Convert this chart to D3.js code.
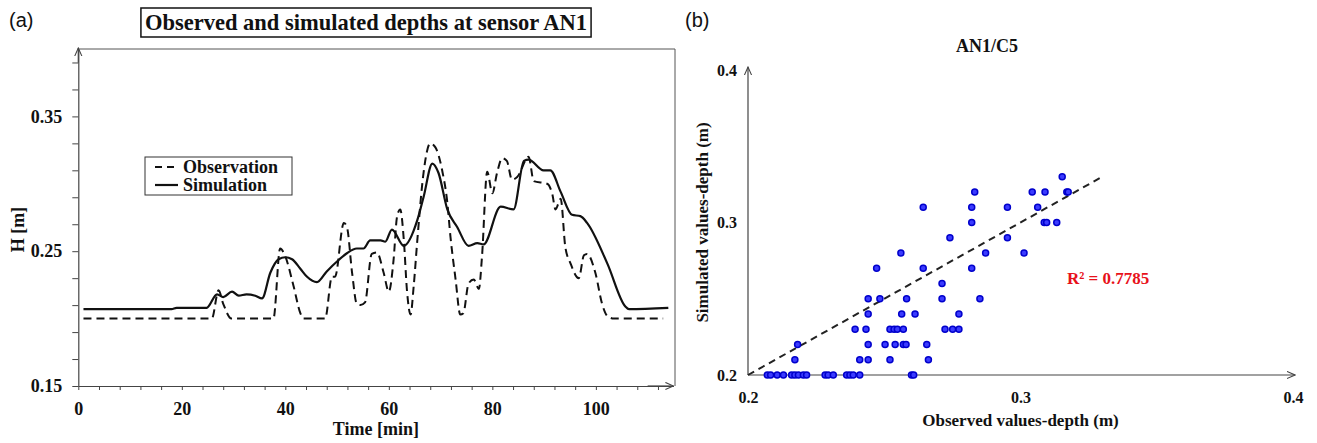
<!DOCTYPE html>
<html>
<head>
<meta charset="utf-8">
<script src="https://cdn.jsdelivr.net/npm/d3@7"></script>
<style>
    body { margin: 0; background: #fff; }
    text { font-family: "Liberation Serif", "Times New Roman", serif; font-weight: bold; fill: #111; }
    .panel-label { font-family: "Liberation Sans", Arial, sans-serif; font-weight: normal; font-size: 20px; }
</style>
</head>
<body>
<svg id="chart" width="1317" height="443"></svg>
<script>
// (a) time series
var obsTime = [1, 25.8, 27.1, 28, 29.6, 37.7, 39, 40, 41.6, 42.9, 43.5, 47.7, 49, 49.6, 51.3, 51.9, 52.9, 53.8, 54.5, 55.4,
    56.7, 57.7, 59, 60, 60.9, 61.6, 62.2, 62.9, 63.5, 64.2, 64.8, 65.5, 66.7, 68, 69, 70.3, 71.3, 71.9, 72.9, 73.8,
    74.4, 75.4, 76.4, 77.4, 78, 79, 80, 80.9, 81.9, 82.8, 83.8, 84.8, 87, 88, 90.6, 91.6, 92.2, 93.2, 94.1, 95.1,
    96.7, 97.7, 98.3, 99.9, 101.2, 102.2, 103.5, 113];
var obsDepth = [0.2, 0.2, 0.221, 0.211, 0.2, 0.2, 0.252, 0.246, 0.224, 0.204, 0.2, 0.2, 0.231, 0.231, 0.271, 0.268, 0.234, 0.211, 0.21, 0.212,
    0.248, 0.249, 0.234, 0.22, 0.243, 0.276, 0.281, 0.258, 0.221, 0.203, 0.224, 0.258, 0.308, 0.33, 0.327, 0.31, 0.286, 0.261, 0.229, 0.203,
    0.204, 0.226, 0.229, 0.222, 0.246, 0.309, 0.293, 0.308, 0.319, 0.317, 0.303, 0.305, 0.32, 0.302, 0.3, 0.292, 0.281, 0.289, 0.253, 0.241,
    0.23, 0.247, 0.248, 0.234, 0.211, 0.202, 0.2, 0.2];

var simTime = [1, 18, 19, 24.8, 26.8, 28, 29.7, 31, 32.5, 34.2, 35.5, 37.1, 38.7, 40, 41.3, 42.9, 44.2, 46.1, 48, 50.3,
    51.9, 53.8, 55.1, 56.4, 58.4, 59.3, 60.6, 62.9, 65.5, 66.7, 68.4, 69.6, 71.3, 73.2, 75.4, 77.1, 78.3, 81.6, 84.1, 86.1,
    87, 89.9, 91.2, 93.2, 95.4, 97, 98.3, 102.2, 105.7, 106.4, 114];
var simDepth = [0.207, 0.207, 0.208, 0.208, 0.218, 0.216, 0.22, 0.217, 0.218, 0.217, 0.215, 0.234, 0.244, 0.2455, 0.244, 0.237, 0.231, 0.227, 0.235, 0.2435,
    0.2485, 0.252, 0.252, 0.258, 0.258, 0.257, 0.266, 0.254, 0.273, 0.29, 0.315, 0.308, 0.281, 0.268, 0.254, 0.256, 0.255, 0.283, 0.281, 0.317,
    0.318, 0.31, 0.31, 0.294, 0.277, 0.276, 0.271, 0.241, 0.209, 0.207, 0.208];

var hTickLabels = [0.15, 0.25, 0.35];
var timeTickLabels = [0, 20, 40, 60, 80, 100];

// (b) scatter, observed vs simulated (grouped by simulated row)
var scatterObserved = [
    0.2071, 0.2083, 0.2107, 0.213, 0.216, 0.2172, 0.2185, 0.2203, 0.2215, 0.2283, 0.2294, 0.2313, 0.2362, 0.2374, 0.2386, 0.241, 0.26, 0.2608,
    0.2172, 0.241, 0.2441, 0.2521, 0.2662,
    0.2182, 0.2441, 0.2503, 0.254, 0.257, 0.258, 0.2656,
    0.2393, 0.2433, 0.2521, 0.2536, 0.2548, 0.257, 0.2723, 0.2751, 0.2774,
    0.2441, 0.2564, 0.2613, 0.2774,
    0.2441, 0.2484, 0.2582, 0.2712, 0.2851,
    0.2712,
    0.2472, 0.2643, 0.2821,
    0.2561, 0.2872, 0.3013,
    0.2741, 0.2952,
    0.2821, 0.3087, 0.3096, 0.3133,
    0.2643, 0.2821, 0.2952, 0.3063,
    0.2832, 0.3043, 0.309, 0.317, 0.3175,
    0.3153];
var scatterSimulated = [
    0.2, 0.2, 0.2, 0.2, 0.2, 0.2, 0.2, 0.2, 0.2, 0.2, 0.2, 0.2, 0.2, 0.2, 0.2, 0.2, 0.2, 0.2,
    0.21, 0.21, 0.21, 0.21, 0.21,
    0.22, 0.22, 0.22, 0.22, 0.22, 0.22, 0.22,
    0.23, 0.23, 0.23, 0.23, 0.23, 0.23, 0.23, 0.23, 0.23,
    0.24, 0.24, 0.24, 0.24,
    0.25, 0.25, 0.25, 0.25, 0.25,
    0.26,
    0.27, 0.27, 0.27,
    0.28, 0.28, 0.28,
    0.29, 0.29,
    0.30, 0.30, 0.30, 0.30,
    0.31, 0.31, 0.31, 0.31,
    0.32, 0.32, 0.32, 0.32, 0.32,
    0.33];
var trendX = [0.2, 0.33];
var trendY = [0.2, 0.33];
var depthTickLabels = [0.2, 0.3, 0.4];

var svg = d3.select("#chart");

var defs = svg.append("defs");
defs.append("marker")
    .attr("id", "arrow")
    .attr("viewBox", "0 -5 10 10")
    .attr("refX", 9).attr("refY", 0)
    .attr("markerWidth", 9).attr("markerHeight", 9)
    .attr("markerUnits", "userSpaceOnUse")
    .attr("orient", "auto")
  .append("path")
    .attr("d", "M0,-4L9,0L0,4")
    .attr("fill", "none")
    .attr("stroke", "#444")
    .attr("stroke-width", 1.2);

/* ---------- panel (a) ---------- */
var x = d3.scaleLinear().domain([0, 115]).range([78.3, 673.5]);
var y = d3.scaleLinear().domain([0.15, 0.4]).range([386, 49]);

svg.append("text").attr("class", "panel-label").attr("x", 9).attr("y", 27).text("(a)");

var title = svg.append("text")
    .attr("x", 366).attr("y", 30)
    .attr("text-anchor", "middle")
    .style("font-size", "22.5px")
    .text("Observed and simulated depths at sensor AN1");
var tb = title.node().getBBox();
svg.insert("rect", "text")
    .attr("x", tb.x - 4).attr("y", 8)
    .attr("width", tb.width + 8).attr("height", 29)
    .attr("fill", "none").attr("stroke", "#111").attr("stroke-width", 1.5);

// frame top and right
svg.append("path")
    .attr("d", "M" + x(0) + "," + y(0.4) + "H" + (x(115) + 1.5) + "V" + y(0.15))
    .attr("fill", "none").attr("stroke", "#555").attr("stroke-width", 1);

var minorH = d3.range(0.15, 0.395, 0.02);
var yAxis = d3.axisLeft(y)
    .tickValues(minorH)
    .tickSize(6).tickSizeOuter(0).tickPadding(10)
    .tickFormat(function(d) {
        return hTickLabels.some(function(v) { return Math.abs(v - d) < 1e-6; }) ? d3.format(".2f")(d) : "";
    });
var gy = svg.append("g").attr("transform", "translate(" + x(0) + ",0)").call(yAxis);

var xAxis = d3.axisBottom(x)
    .tickValues(d3.range(0, 113, 4))
    .tickSize(4).tickSizeOuter(0).tickPadding(12)
    .tickFormat(function(d) { return timeTickLabels.indexOf(d) >= 0 ? d : ""; });
var gx = svg.append("g").attr("transform", "translate(0," + y(0.15) + ")").call(xAxis);

[gx, gy].forEach(function(g) {
    g.selectAll("path.domain").attr("stroke", "#444").attr("stroke-width", 1.2);
    g.selectAll(".tick line").attr("stroke", "#444");
    g.selectAll(".tick text").style("font-size", "18px").style("font-family", null).attr("fill", "#111");
});
// arrows at the axis ends
svg.append("line").attr("x1", x(0)).attr("y1", y(0.39)).attr("x2", x(0)).attr("y2", y(0.4) - 1)
    .attr("stroke", "#444").attr("stroke-width", 1.2).attr("marker-end", "url(#arrow)");
svg.append("line").attr("x1", x(110)).attr("y1", y(0.15)).attr("x2", x(115)).attr("y2", y(0.15))
    .attr("stroke", "#444").attr("stroke-width", 1.2).attr("marker-end", "url(#arrow)");

svg.append("text")
    .attr("x", (x(0) + x(115)) / 2).attr("y", 435)
    .attr("text-anchor", "middle").style("font-size", "18px")
    .text("Time [min]");
svg.append("text")
    .attr("transform", "translate(24," + y(0.266) + ") rotate(-90)")
    .attr("text-anchor", "middle").style("font-size", "18px")
    .text("H [m]");

var lineGen = d3.line().curve(d3.curveMonotoneX);
svg.append("path")
    .datum(obsTime.map(function(t, i) { return [x(t), y(obsDepth[i])]; }))
    .attr("d", lineGen)
    .attr("fill", "none").attr("stroke", "#111").attr("stroke-width", 2)
    .attr("stroke-dasharray", "8,5");
svg.append("path")
    .datum(simTime.map(function(t, i) { return [x(t), y(simDepth[i])]; }))
    .attr("d", lineGen)
    .attr("fill", "none").attr("stroke", "#111").attr("stroke-width", 2.2);

// legend
var legend = svg.append("g").attr("transform", "translate(145,157)");
legend.append("rect").attr("width", 147).attr("height", 38)
    .attr("fill", "#fff").attr("stroke", "#333").attr("stroke-width", 1);
legend.append("line").attr("x1", 10).attr("x2", 33).attr("y1", 10).attr("y2", 10)
    .attr("stroke", "#111").attr("stroke-width", 2).attr("stroke-dasharray", "7,5");
legend.append("line").attr("x1", 10).attr("x2", 33).attr("y1", 28).attr("y2", 28)
    .attr("stroke", "#111").attr("stroke-width", 2.2);
legend.append("text").attr("x", 38).attr("y", 10).attr("dy", "0.35em").style("font-size", "18px").text("Observation");
legend.append("text").attr("x", 38).attr("y", 28).attr("dy", "0.35em").style("font-size", "18px").text("Simulation");

/* ---------- panel (b) ---------- */
var sx = d3.scaleLinear().domain([0.2, 0.4]).range([748, 1293]);
var sy = d3.scaleLinear().domain([0.2, 0.4]).range([375, 70]);

svg.append("text").attr("class", "panel-label").attr("x", 685).attr("y", 27).text("(b)");
svg.append("text").attr("x", 987).attr("y", 52).attr("text-anchor", "middle")
    .style("font-size", "18px").text("AN1/C5");

var sxAxis = d3.axisBottom(sx).tickValues(depthTickLabels).tickSize(0).tickPadding(17)
    .tickFormat(d3.format(".1f"));
var syAxis = d3.axisLeft(sy).tickValues(depthTickLabels).tickSize(0).tickPadding(11)
    .tickFormat(d3.format(".1f"));
var gsx = svg.append("g").attr("transform", "translate(0," + sy(0.2) + ")").call(sxAxis);
var gsy = svg.append("g").attr("transform", "translate(" + sx(0.2) + ",0)").call(syAxis);
[gsx, gsy].forEach(function(g) {
    g.selectAll("path.domain").attr("stroke", "#444").attr("stroke-width", 1.2).attr("marker-end", "url(#arrow)");
    g.selectAll(".tick text").style("font-size", "16px").style("font-family", null).attr("fill", "#111");
});
// y domain drawn bottom-up so the arrow points up
gsy.select("path.domain").attr("d", "M0," + sy(0.2) + "V" + (sy(0.4) - 3));
gsx.select("path.domain").attr("d", "M" + sx(0.2) + ",0H" + (sx(0.4) + 2));

svg.append("text")
    .attr("x", (sx(0.2) + sx(0.4)) / 2).attr("y", 426)
    .attr("text-anchor", "middle").style("font-size", "17px")
    .text("Observed values-depth (m)");
svg.append("text")
    .attr("transform", "translate(708," + sy(0.3) + ") rotate(-90)")
    .attr("text-anchor", "middle").style("font-size", "17px")
    .text("Simulated values-depth (m)");

svg.append("line")
    .attr("x1", sx(trendX[0])).attr("y1", sy(trendY[0]))
    .attr("x2", sx(trendX[1])).attr("y2", sy(trendY[1]))
    .attr("stroke", "#222").attr("stroke-width", 2).attr("stroke-dasharray", "7,5");

svg.append("g").selectAll("circle")
    .data(scatterObserved)
    .enter().append("circle")
    .attr("cx", function(d) { return sx(d); })
    .attr("cy", function(d, i) { return sy(scatterSimulated[i]); })
    .attr("r", 3)
    .attr("fill", "#3b3bff")
    .attr("stroke", "#0000cc")
    .attr("stroke-width", 1.5);

svg.append("text")
    .attr("x", 1067).attr("y", 284)
    .style("font-size", "17px").style("fill", "#e8111a")
    .text("R² = 0.7785");
</script>
</body>
</html>
